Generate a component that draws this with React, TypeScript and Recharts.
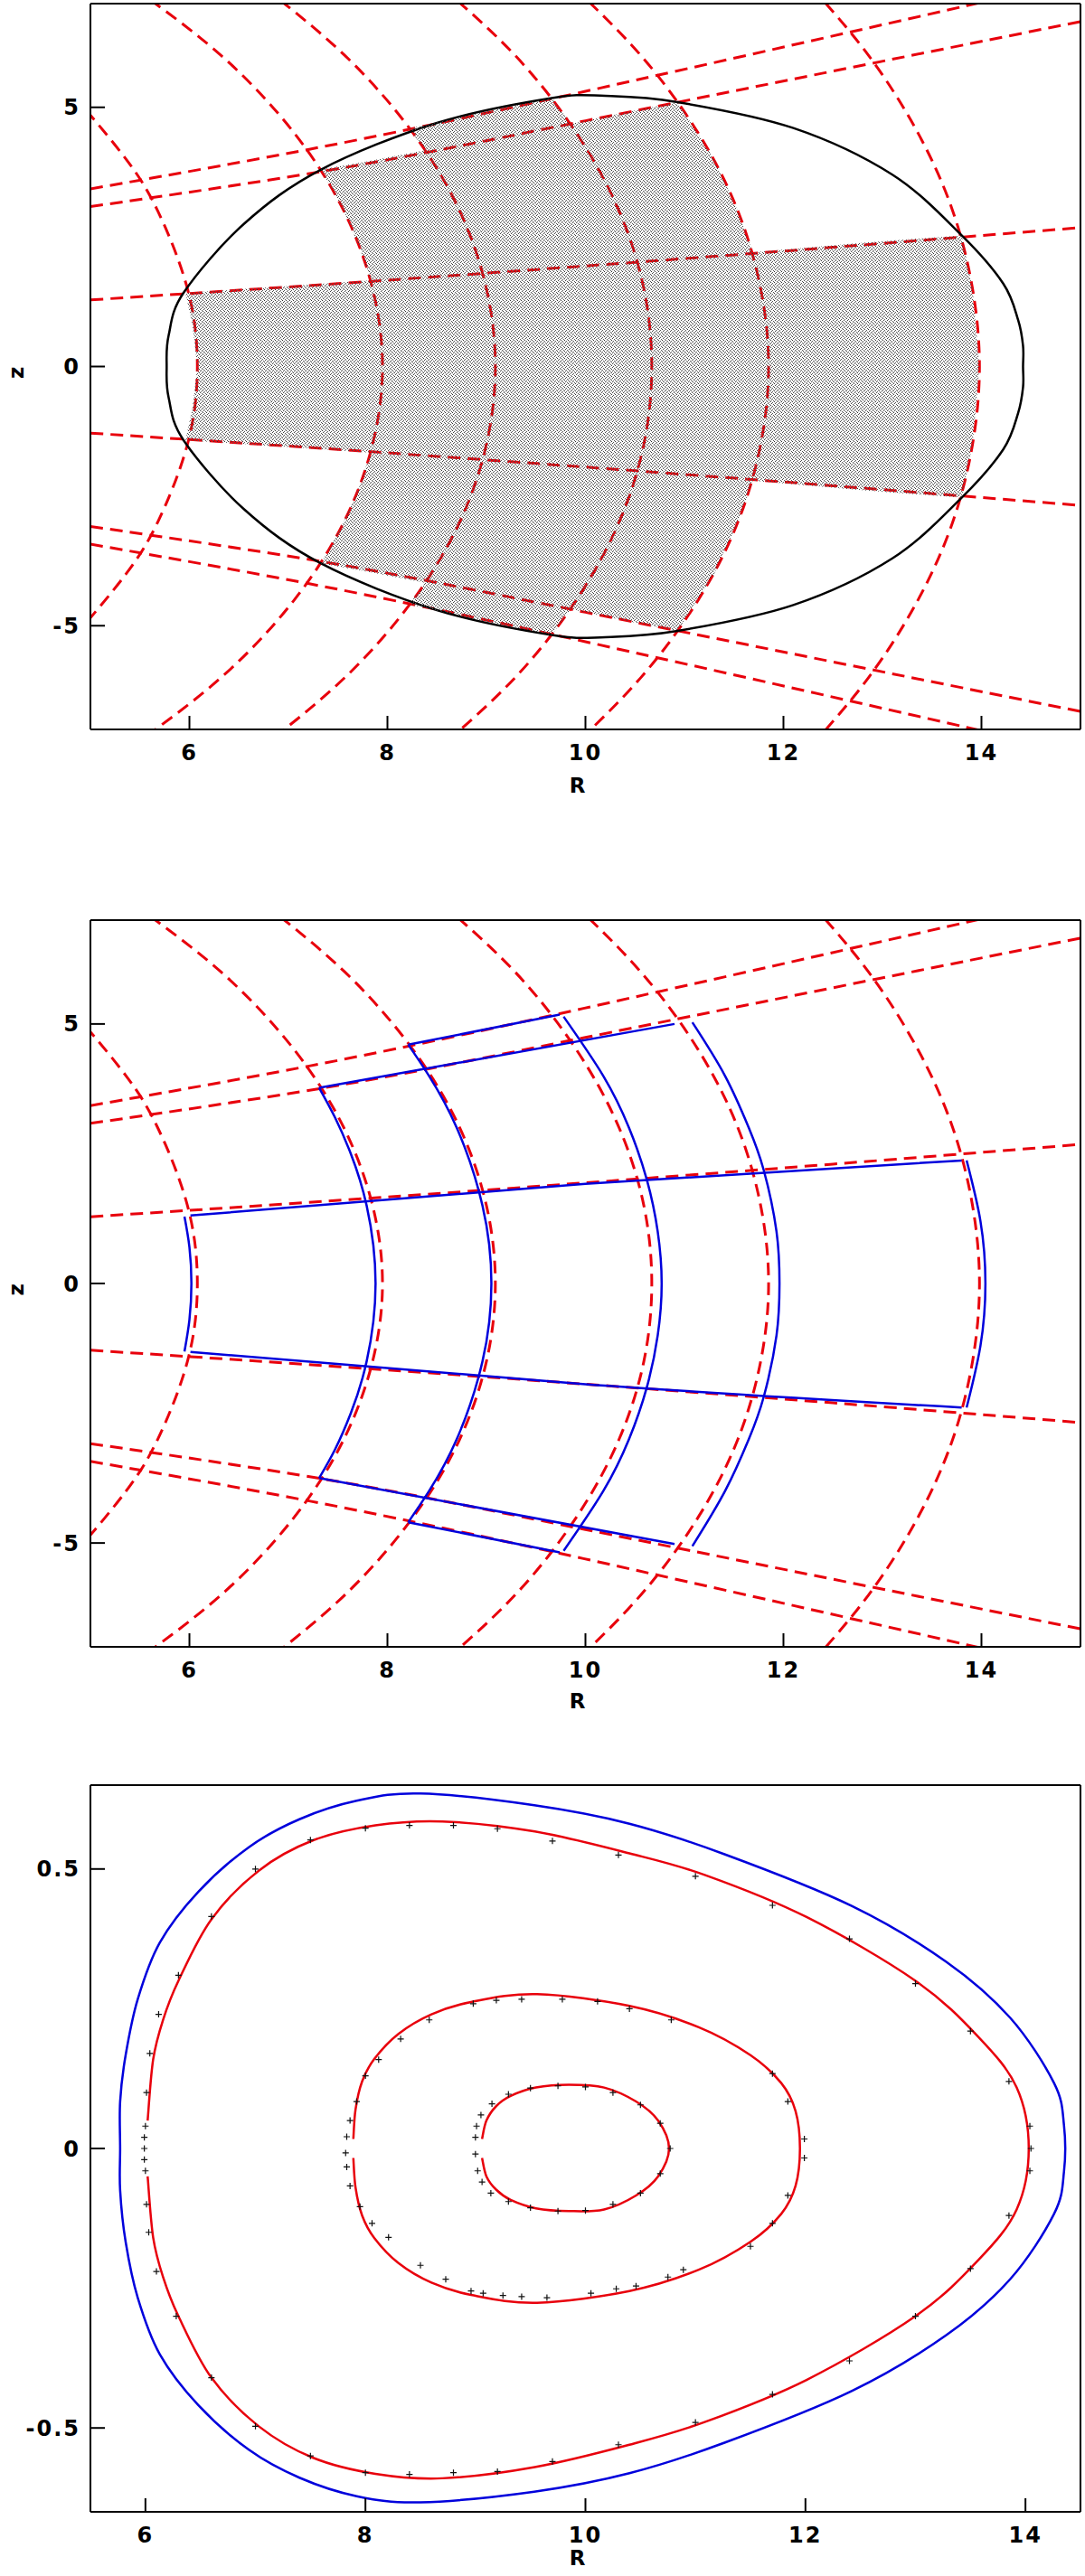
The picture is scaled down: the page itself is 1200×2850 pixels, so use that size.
import { ComposedChart, Line, Scatter, XAxis, YAxis, Label } from 'recharts';

type Pt = { R: number; z: number };
const pts = (a: number[][]): Pt[] => a.map(([R, z]) => ({ R, z }));

// ---- tick values ----
const rMajor = [6, 8, 10, 12, 14];
const rMinor = [5.5, 6, 6.5, 7, 7.5, 8, 8.5, 9, 9.5, 10, 10.5, 11, 11.5, 12, 12.5, 13, 13.5, 14, 14.5];
const zMajorTop = [-5, 0, 5];
const zMinorTop = [-6, -5, -4, -3, -2, -1, 0, 1, 2, 3, 4, 5, 6];
const zMajorBot = [-0.5, 0, 0.5];
const zMinorBot = [-0.6, -0.5, -0.4, -0.3, -0.2, -0.1, 0, 0.1, 0.2, 0.3, 0.4, 0.5, 0.6];

// ---- red dashed coordinate curves (same in panels 1 and 2) ----
const arcA = pts([[4.68, 5.5], [4.93, 5], [5.36, 4], [5.68, 3], [5.98, 1.5], [6.08, 0], [5.98, -1.5], [5.68, -3], [5.36, -4], [4.93, -5], [4.68, -5.5]]);
const arcB = pts([[5.44, 7.3], [6.32, 6], [7.06, 4.5], [7.56, 3], [7.85, 1.5], [7.95, 0], [7.85, -1.5], [7.56, -3], [7.06, -4.5], [6.32, -6], [5.44, -7.3]]);
const arcC = pts([[6.76, 7.3], [7.57, 6], [8.26, 4.5], [8.73, 3], [9.0, 1.5], [9.09, 0], [9.0, -1.5], [8.73, -3], [8.26, -4.5], [7.57, -6], [6.76, -7.3]]);
const arcD = pts([[8.56, 7.3], [9.29, 6], [9.91, 4.5], [10.34, 3], [10.59, 1.5], [10.67, 0], [10.59, -1.5], [10.34, -3], [9.91, -4.5], [9.29, -6], [8.56, -7.3]]);
const arcE = pts([[9.89, 7.3], [10.56, 6], [11.14, 4.5], [11.54, 3], [11.77, 1.5], [11.85, 0], [11.77, -1.5], [11.54, -3], [11.14, -4.5], [10.56, -6], [9.89, -7.3]]);
const arcF = pts([[12.29, 7.3], [12.86, 6], [13.36, 4.5], [13.71, 3], [13.91, 1.5], [13.98, 0], [13.91, -1.5], [13.71, -3], [13.36, -4.5], [12.86, -6], [12.29, -7.3]]);
const midUp = pts([[4.8, 1.26], [7.5, 1.6], [10, 1.94], [12.5, 2.3], [15.2, 2.71]]);
const midDn = pts([[4.8, -1.26], [7.5, -1.6], [10, -1.94], [12.5, -2.3], [15.2, -2.71]]);
const lineAUp = pts([[4.8, 3.36], [7.21, 4.19], [9.98, 5.3], [13.85, 6.96], [14.5, 7.25]]);
const lineADn = pts([[4.8, -3.36], [7.21, -4.19], [9.98, -5.3], [13.85, -6.96], [14.5, -7.25]]);
const lineBUp = pts([[4.8, 3.03], [7.36, 3.77], [10.0, 4.74], [15.2, 6.73]]);
const lineBDn = pts([[4.8, -3.03], [7.36, -3.77], [10.0, -4.74], [15.2, -6.73]]);
const redGrid = [arcA, arcB, arcC, arcD, arcE, arcF, midUp, midDn, lineAUp, lineADn, lineBUp, lineBDn];

// ---- panel 1: boundary and sampled region ----
const boundary = pts([
  [14.42, 0], [14.42, 0.4], [14.37, 0.9], [14.22, 1.6], [13.8, 2.53], [13.1, 3.7], [12.1, 4.6], [10.93, 5.1], [10.2, 5.22],
  [9.66, 5.18], [8.5, 4.7], [7.33, 3.8], [6.55, 2.75], [5.94, 1.42], [5.79, 0.6], [5.77, 0], [5.79, -0.6], [5.94, -1.42],
  [6.55, -2.75], [7.33, -3.8], [8.5, -4.7], [9.66, -5.18], [10.2, -5.22], [10.93, -5.1], [12.1, -4.6], [13.1, -3.7],
  [13.8, -2.53], [14.22, -1.6], [14.37, -0.9], [14.42, -0.4], [14.42, 0],
]);
const sampled = pts([
  [13.98, 0], [13.91, 1.5], [13.8, 2.53], [12.7, 2.37], [11.69, 2.2], [11.54, 3.0], [11.3, 4.0], [10.93, 5.1], [10.4, 4.9],
  [9.85, 4.68], [9.66, 5.18], [8.9, 4.88], [8.22, 4.59], [8.38, 4.17], [7.8, 3.96], [7.33, 3.8], [7.56, 3.0], [7.72, 2.3],
  [7.83, 1.66], [6.9, 1.54], [5.96, 1.42], [6.03, 0.8], [6.08, 0], [6.03, -0.8], [5.96, -1.42], [6.9, -1.54], [7.83, -1.66],
  [7.72, -2.3], [7.56, -3.0], [7.33, -3.8], [7.8, -3.96], [8.38, -4.17], [8.22, -4.59], [8.9, -4.88], [9.66, -5.18],
  [9.85, -4.68], [10.4, -4.9], [10.93, -5.1], [11.3, -4.0], [11.54, -3.0], [11.69, -2.2], [12.7, -2.37], [13.8, -2.53],
  [13.91, -1.5],
]);

// ---- panel 2: mapped cell outlines ----
const blueCells = [
  pts([[5.95, 1.29], [6.0, 0.7], [6.02, 0], [6.0, -0.7], [5.95, -1.31]]),
  pts([[6.01, 1.31], [10.0, 1.92], [13.8, 2.37]]),
  pts([[6.01, -1.32], [10.0, -1.94], [13.8, -2.39]]),
  pts([[13.85, 2.37], [13.99, 1.2], [14.04, 0], [13.99, -1.2], [13.85, -2.39]]),
  pts([[7.31, 3.77], [7.47, 3.2], [7.63, 2.5], [7.79, 1.5], [7.88, 0], [7.79, -1.5], [7.63, -2.5], [7.47, -3.2], [7.31, -3.75]]),
  pts([[7.31, 3.77], [10.9, 5.0]]),
  pts([[7.31, -3.75], [10.9, -5.02]]),
  pts([[8.21, 4.6], [9.74, 5.18]]),
  pts([[8.21, -4.6], [9.74, -5.18]]),
  pts([[8.21, 4.6], [8.42, 4], [8.7, 3], [8.96, 1.5], [9.05, 0], [8.96, -1.5], [8.7, -3], [8.42, -4], [8.21, -4.6]]),
  pts([[9.78, 5.14], [10.18, 4], [10.44, 3], [10.62, 2], [10.73, 1], [10.77, 0], [10.73, -1], [10.62, -2], [10.44, -3], [10.18, -4], [9.78, -5.15]]),
  pts([[11.08, 5.03], [11.41, 4], [11.65, 3], [11.8, 2.19], [11.93, 1], [11.96, 0], [11.93, -1], [11.8, -2.19], [11.65, -3], [11.41, -4], [11.08, -5.06]]),
];

// ---- panel 3: surfaces ----
const blueOuter = pts([
  [5.77, 0], [5.77, 0.084], [5.82, 0.167], [5.93, 0.267], [6.13, 0.368], [6.48, 0.459], [6.94, 0.539], [7.4, 0.589],
  [7.92, 0.622], [8.5, 0.635], [9.535, 0.614], [10.4, 0.581], [11.27, 0.526], [12.42, 0.434], [13.28, 0.334],
  [13.86, 0.234], [14.26, 0.117], [14.35, 0.042], [14.35, -0.042], [14.26, -0.117], [13.86, -0.234], [13.28, -0.334],
  [12.42, -0.434], [11.27, -0.526], [10.4, -0.581], [9.535, -0.614], [8.5, -0.633], [7.92, -0.622], [7.4, -0.589],
  [6.94, -0.539], [6.48, -0.459], [6.13, -0.368], [5.93, -0.267], [5.82, -0.167], [5.77, -0.075], [5.77, 0],
]);
const redOuter = pts([
  [6.02, 0.05], [6.07, 0.159], [6.16, 0.23], [6.3, 0.3], [6.6, 0.41], [7.03, 0.497], [7.52, 0.551], [8.09, 0.578],
  [8.7, 0.585], [9.54, 0.567], [10.4, 0.528], [11.09, 0.489], [12.01, 0.414], [13.0, 0.3], [13.57, 0.2], [13.92, 0.109],
  [14.03, 0], [13.92, -0.109], [13.57, -0.2], [13.0, -0.3], [12.01, -0.414], [11.09, -0.489], [10.4, -0.53],
  [9.54, -0.57], [8.7, -0.59], [8.09, -0.582], [7.52, -0.553], [7.03, -0.497], [6.6, -0.41], [6.3, -0.3], [6.16, -0.23],
  [6.07, -0.159], [6.02, -0.05],
]);
const redMid = pts([
  [7.89, 0.017], [7.91, 0.07], [7.97, 0.12], [8.08, 0.16], [8.3, 0.205], [8.6, 0.24], [8.96, 0.262], [9.56, 0.276],
  [10.4, 0.255], [11.03, 0.217], [11.5, 0.167], [11.78, 0.117], [11.91, 0.067], [11.95, 0], [11.91, -0.067],
  [11.78, -0.117], [11.5, -0.167], [11.03, -0.217], [10.4, -0.255], [9.56, -0.276], [8.96, -0.262], [8.6, -0.24],
  [8.3, -0.205], [8.08, -0.16], [7.97, -0.12], [7.91, -0.07], [7.89, -0.017],
]);
const redInner = pts([
  [9.06, 0.017], [9.1, 0.05], [9.19, 0.076], [9.32, 0.094], [9.55, 0.109], [9.85, 0.114], [10.17, 0.109], [10.46, 0.084],
  [10.66, 0.05], [10.76, 0], [10.66, -0.05], [10.46, -0.084], [10.17, -0.109], [9.85, -0.112], [9.55, -0.107],
  [9.32, -0.092], [9.19, -0.074], [9.1, -0.05], [9.06, -0.017],
]);
const outerMarks = pts([
  [6.0, 0.04], [5.99, 0.02], [5.99, 0.0], [5.99, -0.02], [6.0, -0.04], [6.01, 0.1], [6.01, -0.1], [6.04, 0.17],
  [6.03, -0.15], [6.12, 0.24], [6.1, -0.22], [6.3, 0.31], [6.28, -0.3], [6.6, 0.415], [6.6, -0.41], [7.0, 0.5],
  [7.0, -0.497], [7.5, 0.552], [7.5, -0.55], [8.0, 0.573], [8.0, -0.58], [8.4, 0.578], [8.4, -0.583], [8.8, 0.578],
  [8.8, -0.58], [9.2, 0.572], [9.2, -0.578], [9.7, 0.55], [9.7, -0.56], [10.3, 0.525], [10.3, -0.53], [11.0, 0.487],
  [11.0, -0.49], [11.7, 0.435], [11.7, -0.44], [12.4, 0.375], [12.4, -0.38], [13.0, 0.295], [13.0, -0.3],
  [13.5, 0.21], [13.5, -0.215], [13.85, 0.12], [13.85, -0.12], [14.04, 0.04], [14.04, -0.04], [14.05, 0.0],
]);
const midMarks = pts([
  [8.98, 0.259], [9.19, 0.265], [9.42, 0.267], [9.79, 0.267], [10.11, 0.263], [10.4, 0.25], [10.78, 0.23],
  [8.58, 0.23], [8.32, 0.196], [8.12, 0.159], [8.0, 0.13], [7.92, 0.084], [7.86, 0.05], [7.83, 0.021], [7.82, -0.008],
  [7.83, -0.033], [7.86, -0.067], [7.95, -0.104], [8.06, -0.134], [8.21, -0.159], [8.5, -0.209], [8.73, -0.234],
  [8.96, -0.255], [9.07, -0.259], [9.25, -0.263], [9.42, -0.265], [9.65, -0.267], [10.05, -0.259], [10.28, -0.251],
  [10.46, -0.246], [10.75, -0.23], [10.89, -0.217], [11.7, 0.134], [11.84, 0.084], [11.99, 0.017], [11.99, -0.017],
  [11.84, -0.084], [11.7, -0.134], [11.5, -0.175],
]);
const innerMarks = pts([
  [9.0, 0.02], [9.0, -0.01], [9.01, 0.04], [9.02, -0.04], [9.05, 0.06], [9.06, -0.06], [9.15, 0.08], [9.14, -0.08],
  [9.3, 0.097], [9.3, -0.095], [9.5, 0.108], [9.5, -0.106], [9.75, 0.112], [9.75, -0.112], [10.0, 0.11],
  [10.0, -0.111], [10.25, 0.1], [10.25, -0.1], [10.5, 0.078], [10.5, -0.08], [10.68, 0.045], [10.68, -0.045], [10.77, 0.0],
]);

const FONT = '"DejaVu Sans", Verdana, sans-serif';
const RED = '#e8000c';
const BLUE = '#0000dc';
const ink = { stroke: '#000', strokeWidth: 2 };
const tickText = { fill: '#000', fontSize: 24, fontWeight: 700, fontFamily: FONT, letterSpacing: 2 };
const THIN = 0.01;

// Catmull-Rom interpolation (smooth curve through the given points); closed when last point repeats the first
function catmullRom(closed: boolean) {
  return (ctx: any) => {
    let xs: number[] = [];
    let ys: number[] = [];
    return {
      areaStart() {},
      areaEnd() {},
      lineStart() { xs = []; ys = []; },
      point(x: number, y: number) { xs.push(+x); ys.push(+y); },
      lineEnd() {
        const n = xs.length;
        if (!n) return;
        ctx.moveTo(xs[0], ys[0]);
        if (n < 3) {
          for (let i = 1; i < n; i++) ctx.lineTo(xs[i], ys[i]);
          return;
        }
        const m = closed ? n - 1 : n;
        const at = (i: number) => {
          const k = closed ? ((i % m) + m) % m : Math.max(0, Math.min(n - 1, i));
          return [xs[k], ys[k]];
        };
        const segs = closed ? m : n - 1;
        for (let i = 0; i < segs; i++) {
          const p0 = at(i - 1), p1 = at(i), p2 = at(i + 1), p3 = at(i + 2);
          ctx.bezierCurveTo(
            p1[0] + (p2[0] - p0[0]) / 6, p1[1] + (p2[1] - p0[1]) / 6,
            p2[0] - (p3[0] - p1[0]) / 6, p2[1] - (p3[1] - p1[1]) / 6,
            p2[0], p2[1],
          );
        }
        if (closed) ctx.closePath();
      },
    };
  };
}
const smoothOpen = catmullRom(false) as any;
const smoothClosed = catmullRom(true) as any;

function frame(xd: [number, number], yd: [number, number], xMaj: number[], xMin: number[], yMaj: number[], yMin: number[], zTitle: boolean, rOffset: number) {
  const common = { type: 'number' as const, allowDataOverflow: true, interval: 0 as const, axisLine: ink, tickLine: ink };
  return [
    <XAxis key="b" xAxisId="b" dataKey="R" domain={xd} ticks={xMaj} height={THIN} tickSize={-15} tickMargin={32} tick={tickText} {...common}>
      <Label value="R" position="bottom" offset={rOffset} dx={-9} fill="#000" fontSize={23} fontWeight={700} fontFamily={FONT} />
    </XAxis>,
    <XAxis key="bm" xAxisId="bm" domain={xd} ticks={xMin} height={THIN} tickSize={-9} tick={false} {...common} />,
    <XAxis key="t" xAxisId="t" orientation="top" domain={xd} ticks={xMaj} height={THIN} tickSize={-15} tick={false} {...common} />,
    <XAxis key="tm" xAxisId="tm" orientation="top" domain={xd} ticks={xMin} height={THIN} tickSize={-9} tick={false} {...common} />,
    <YAxis key="l" yAxisId="l" dataKey="z" domain={yd} ticks={yMaj} width={THIN} tickSize={-16} tickMargin={27} tick={tickText} {...common}>
      {zTitle && <Label value="z" position="left" offset={82} angle={-90} fill="#000" fontSize={23} fontWeight={700} fontFamily={FONT} />}
    </YAxis>,
    <YAxis key="lm" yAxisId="lm" domain={yd} ticks={yMin} width={THIN} tickSize={-10} tick={false} {...common} />,
    <YAxis key="r" yAxisId="r" orientation="right" domain={yd} ticks={yMaj} width={THIN} tickSize={-16} tick={false} {...common} />,
    <YAxis key="rm" yAxisId="rm" orientation="right" domain={yd} ticks={yMin} width={THIN} tickSize={-10} tick={false} {...common} />,
  ];
}

const Plus = (p: any) => (
  <path d={`M${p.cx - 3.5},${p.cy}h7M${p.cx},${p.cy - 3.5}v7`} stroke="#111" strokeWidth={1.2} fill="none" />
);
const Nothing = () => <g />;

function dashed(data: Pt[], i: number) {
  return (
    <Line key={`red${i}`} xAxisId="b" yAxisId="l" data={data} dataKey="z" type="natural" stroke={RED}
      strokeWidth={3} strokeDasharray="14 8" dot={false} activeDot={false} isAnimationActive={false} />
  );
}

export default function App() {
  return (
    <div style={{ position: 'absolute', left: 0, top: 0, width: 1200, height: 2850, background: '#fff' }}>
      <svg width={0} height={0} style={{ position: 'absolute' }}>
        <defs>
          <pattern id="stipple" width={4} height={4} patternUnits="userSpaceOnUse">
            <rect x={0} y={0} width={1} height={1} fill="#333" />
            <rect x={2} y={1} width={1} height={1} fill="#555" />
            <rect x={1} y={2} width={1} height={1} fill="#444" />
            <rect x={3} y={3} width={1} height={1} fill="#555" />
          </pattern>
        </defs>
      </svg>

      <div style={{ position: 'absolute', left: 0, top: 0 }}>
        <ComposedChart width={1200} height={950} margin={{ top: 4, right: 5, bottom: 143, left: 100 }}>
          {frame([5, 15], [-7, 7], rMajor, rMinor, zMajorTop, zMinorTop, true, 54)}
          <Scatter xAxisId="b" yAxisId="l" data={sampled} dataKey="z" shape={Nothing} lineJointType="linearClosed"
            line={{ stroke: 'none', fill: 'url(#stipple)' }} isAnimationActive={false} />
          {redGrid.map(dashed)}
          <Line xAxisId="b" yAxisId="l" data={boundary} dataKey="z" type={smoothClosed} stroke="#000" strokeWidth={2.5}
            dot={false} activeDot={false} isAnimationActive={false} />
        </ComposedChart>
      </div>

      <div style={{ position: 'absolute', left: 0, top: 950 }}>
        <ComposedChart width={1200} height={950} margin={{ top: 68, right: 5, bottom: 78, left: 100 }}>
          {frame([5, 15], [-7, 7], rMajor, rMinor, zMajorTop, zMinorTop, true, 52)}
          {redGrid.map(dashed)}
          {blueCells.map((c, i) => (
            <Line key={`blue${i}`} xAxisId="b" yAxisId="l" data={c} dataKey="z" type="natural" stroke={BLUE}
              strokeWidth={2.5} dot={false} activeDot={false} isAnimationActive={false} />
          ))}
        </ComposedChart>
      </div>

      <div style={{ position: 'absolute', left: 0, top: 1900 }}>
        <ComposedChart width={1200} height={950} margin={{ top: 75, right: 5, bottom: 71, left: 100 }}>
          {frame([5.5, 14.5], [-0.65, 0.65], rMajor, rMinor, zMajorBot, zMinorBot, false, 43)}
          {[outerMarks, midMarks, innerMarks].map((m, i) => (
            <Scatter key={`m${i}`} xAxisId="b" yAxisId="l" data={m} dataKey="z" shape={Plus} isAnimationActive={false} />
          ))}
          <Line xAxisId="b" yAxisId="l" data={blueOuter} dataKey="z" type={smoothClosed} stroke={BLUE} strokeWidth={2.5}
            dot={false} activeDot={false} isAnimationActive={false} />
          {[redOuter, redMid, redInner].map((c, i) => (
            <Line key={`s${i}`} xAxisId="b" yAxisId="l" data={c} dataKey="z" type={smoothOpen} stroke={RED}
              strokeWidth={2.5} dot={false} activeDot={false} isAnimationActive={false} />
          ))}
        </ComposedChart>
      </div>
    </div>
  );
}
